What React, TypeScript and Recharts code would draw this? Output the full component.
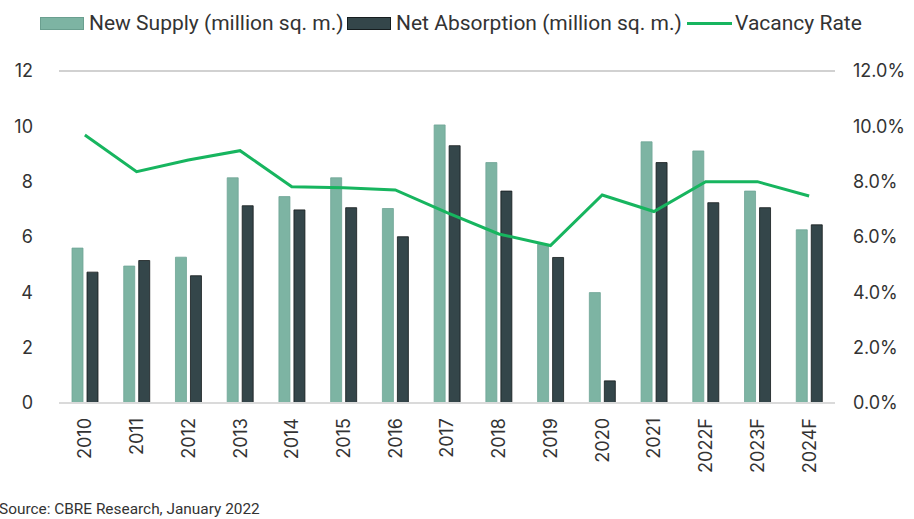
import { ComposedChart, Bar, Line, XAxis, YAxis, CartesianGrid } from "recharts";

// --- DATA ---
const years = ["2010", "2011", "2012", "2013", "2014", "2015", "2016", "2017", "2018", "2019", "2020", "2021", "2022F", "2023F", "2024F"];
const newSupply = [5.6, 4.95, 5.27, 8.14, 7.46, 8.14, 7.03, 10.05, 8.69, 5.73, 3.99, 9.44, 9.11, 7.66, 6.26];
const netAbsorption = [4.73, 5.15, 4.6, 7.13, 6.98, 7.06, 6.01, 9.3, 7.66, 5.26, 0.8, 8.69, 7.24, 7.06, 6.44];
const vacancyRate = [9.69, 8.36, 8.78, 9.12, 7.82, 7.78, 7.7, 6.88, 6.11, 5.69, 7.52, 6.92, 8.0, 8.0, 7.48];
const leftTicks = [0, 2, 4, 6, 8, 10, 12];
const rightTicks = [0, 2, 4, 6, 8, 10, 12];

const data = years.map((year, i) => ({
    year,
    supply: newSupply[i],
    absorption: netAbsorption[i],
    vacancy: vacancyRate[i],
}));

const SUPPLY = "#7db4a3";
const ABSORB = "#34464a";
const VACANCY = "#17b55f";
const TEXT = "#333333";
const tickFont = "Inter, 'DejaVu Sans', sans-serif";
const labelFont = "Roboto, 'Liberation Sans', sans-serif";

const YearTick = (props: any) => {
    const { x, y, payload } = props;
    return (
        <g transform={`translate(${x},${y})`}>
            <text
                transform="rotate(-90)"
                x={-15}
                dy="0.36em"
                textAnchor="end"
                fill={TEXT}
                fontSize={18}
                fontFamily={tickFont}
            >
                {payload.value}
            </text>
        </g>
    );
};

const legendItems = [
    { label: "New Supply (million sq. m.)", kind: "bar", color: SUPPLY, edge: "#6a9f8f", left: 40 },
    { label: "Net Absorption (million sq. m.)", kind: "bar", color: ABSORB, edge: "#161d1f", left: 347 },
    { label: "Vacancy Rate", kind: "line", color: VACANCY, edge: VACANCY, left: 687 },
];

export default function App() {
    return (
        <div style={{ position: "absolute", left: 0, top: 0, width: 914, height: 519, background: "#fff" }}>
            {/* legend */}
            {legendItems.map((item) => (
                <div
                    key={item.label}
                    style={{
                        position: "absolute",
                        top: 10,
                        left: item.left,
                        display: "flex",
                        alignItems: "center",
                        height: 26,
                        fontFamily: labelFont,
                        fontSize: 21,
                        color: TEXT,
                        whiteSpace: "nowrap",
                    }}
                >
                    {item.kind === "bar" ? (
                        <span
                            style={{
                                display: "inline-block",
                                width: 42,
                                height: 11,
                                background: item.color,
                                border: `1px solid ${item.edge}`,
                                marginRight: 5,
                            }}
                        />
                    ) : (
                        <span
                            style={{
                                display: "inline-block",
                                width: 45,
                                height: 3,
                                background: item.color,
                                marginRight: 3,
                            }}
                        />
                    )}
                    {item.label}
                </div>
            ))}

            <ComposedChart
                width={914}
                height={519}
                data={data}
                margin={{ top: 71, right: 0, bottom: 36, left: 0 }}
                barSize={11}
                barGap={4}
            >
                <CartesianGrid vertical={false} stroke="#a3a3a3" strokeWidth={1} />
                <XAxis
                    dataKey="year"
                    height={80}
                    interval={0}
                    tickLine={false}
                    tickSize={0}
                    tickMargin={0}
                    axisLine={{ stroke: "#dadada", strokeWidth: 2 }}
                    tick={<YearTick />}
                />
                <YAxis
                    yAxisId="left"
                    width={59}
                    domain={[0, 12]}
                    ticks={leftTicks}
                    axisLine={false}
                    tickLine={false}
                    tickSize={0}
                    tickMargin={26}
                    tick={{ fill: TEXT, fontSize: 18, fontFamily: tickFont }}
                />
                <YAxis
                    yAxisId="right"
                    orientation="right"
                    width={79}
                    domain={[0, 12]}
                    ticks={rightTicks}
                    axisLine={false}
                    tickLine={false}
                    tickSize={0}
                    tickMargin={18}
                    tickFormatter={(v: number) => `${v.toFixed(1)}%`}
                    tick={{ fill: TEXT, fontSize: 18, fontFamily: tickFont }}
                />
                <Bar
                    yAxisId="left"
                    dataKey="supply"
                    name="New Supply (million sq. m.)"
                    fill={SUPPLY}
                    stroke="#6fa596"
                    strokeWidth={0.8}
                    isAnimationActive={false}
                />
                <Bar
                    yAxisId="left"
                    dataKey="absorption"
                    name="Net Absorption (million sq. m.)"
                    fill={ABSORB}
                    stroke="#141a1c"
                    strokeWidth={0.8}
                    isAnimationActive={false}
                />
                <Line
                    yAxisId="right"
                    dataKey="vacancy"
                    name="Vacancy Rate"
                    type="linear"
                    stroke={VACANCY}
                    strokeWidth={3}
                    dot={false}
                    activeDot={false}
                    isAnimationActive={false}
                />
            </ComposedChart>

            <div
                style={{
                    position: "absolute",
                    left: -1,
                    top: 500,
                    fontFamily: labelFont,
                    fontSize: 15.4,
                    color: TEXT,
                    whiteSpace: "nowrap",
                }}
            >
                Source: CBRE Research, January 2022
            </div>
        </div>
    );
}
